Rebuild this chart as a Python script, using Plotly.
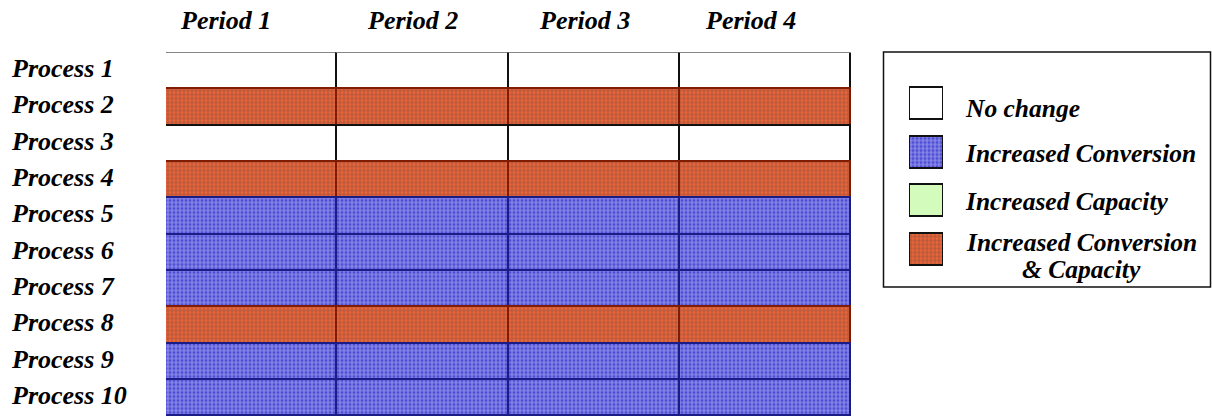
import plotly.graph_objects as go

# Grid content: one row per process, one column per planning period
periods = ["Period 1", "Period 2", "Period 3", "Period 4"]
processes = [f"Process {i}" for i in range(1, 11)]
# status code per process (same in every period)
status = ["none", "both", "none", "both", "conv", "conv", "conv", "both", "conv", "conv"]

legend_keys = ["none", "conv", "cap", "both"]
legend_labels = ["No change", "Increased Conversion", "Increased Capacity",
                 "Increased Conversion<br>& Capacity"]

W, H = 1212, 417
FONT = "Liberation Serif"

# fill styles for each status
STYLE = {
    "none": dict(bg="#ffffff", fg="#ffffff", shape="", line="#111111"),
    "conv": dict(bg="#4e4ed8", fg="#2626bc", shape="+", line="#1c1c86"),
    "cap":  dict(bg="#d2fbbc", fg="#d2fbbc", shape="", line="#111111"),
    "both": dict(bg="#ec6438", fg="#d03c10", shape="+", line="#801c02"),
}


def px_x(p):
    return p / W


def px_y(p):
    return 1 - p / H


fig = go.Figure()

# one stacked horizontal segment per period -> cells of the grid
for per in periods:
    fig.add_trace(go.Bar(
        y=processes, x=[1] * len(processes), orientation="h", name=per,
        marker=dict(
            color=[STYLE[s]["bg"] for s in status],
            line=dict(color=[STYLE[s]["line"] for s in status], width=1.8),
            pattern=dict(
                shape=[STYLE[s]["shape"] for s in status],
                fgcolor=[STYLE[s]["fg"] for s in status],
                bgcolor=[STYLE[s]["bg"] for s in status],
                size=4, solidity=0.35,
            ),
        ),
        showlegend=False, hoverinfo="skip",
    ))

# legend swatches drawn as bars on their own small axes
fig.add_trace(go.Bar(
    y=legend_keys, x=[1] * len(legend_keys), orientation="h",
    xaxis="x2", yaxis="y2", width=0.66,
    marker=dict(
        color=[STYLE[k]["bg"] for k in legend_keys],
        line=dict(color="#111111", width=2),
        pattern=dict(
            shape=[STYLE[k]["shape"] for k in legend_keys],
            fgcolor=[STYLE[k]["fg"] for k in legend_keys],
            bgcolor=[STYLE[k]["bg"] for k in legend_keys],
            size=4, solidity=0.35,
        ),
    ),
    showlegend=False, hoverinfo="skip",
))

lab_font = dict(family=FONT, size=26, color="#000000", weight="bold", style="italic")

annotations = []
# row labels, left aligned
for p in processes:
    annotations.append(dict(
        text=p, xref="paper", yref="y", x=px_x(9), y=p, xanchor="left",
        yanchor="middle", showarrow=False, font=lab_font, yshift=2,
    ))
# column headers
for per, cx in zip(periods, [225, 412, 584, 750]):
    annotations.append(dict(
        text=per, xref="paper", yref="paper", x=px_x(cx), y=px_y(20),
        xanchor="center", yanchor="middle", showarrow=False, font=lab_font,
    ))
# legend labels
leg_font = dict(lab_font, size=25.5)
for key, txt in zip(legend_keys[:3], legend_labels[:3]):
    annotations.append(dict(
        text=txt, xref="paper", yref="y2", x=px_x(963), y=key, xanchor="left",
        yanchor="middle", showarrow=False, font=leg_font,
        yshift=-6 if key == "none" else -2,
    ))
for i, line in enumerate(legend_labels[3].split("<br>")):
    annotations.append(dict(
        text=line, xref="paper", yref="y2", x=px_x(1081), y="both",
        xanchor="center", yanchor="middle", showarrow=False, font=leg_font,
        yshift=6 - 27 * i,
    ))

fig.update_layout(
    width=W, height=H,
    margin=dict(l=0, r=0, t=0, b=0),
    paper_bgcolor="#ffffff", plot_bgcolor="#ffffff",
    barmode="stack", bargap=0,
    xaxis=dict(domain=[px_x(166), px_x(851)], range=[0, 4], visible=False, fixedrange=True),
    yaxis=dict(domain=[px_y(416), px_y(52.5)], categoryorder="array",
               categoryarray=processes, autorange="reversed",
               visible=False, fixedrange=True),
    xaxis2=dict(domain=[px_x(909), px_x(943)], range=[0, 1], visible=False,
                anchor="y2", fixedrange=True),
    yaxis2=dict(domain=[px_y(272.5), px_y(78.5)], categoryorder="array",
                categoryarray=legend_keys, autorange="reversed", visible=False,
                anchor="x2", fixedrange=True),
    annotations=annotations,
    shapes=[dict(type="rect", xref="paper", yref="paper",
                 x0=px_x(883.5), x1=px_x(1210.5), y0=px_y(287), y1=px_y(52),
                 line=dict(color="#111111", width=1.5), fillcolor="rgba(0,0,0,0)")],
)

fig.write_html("out.html")
